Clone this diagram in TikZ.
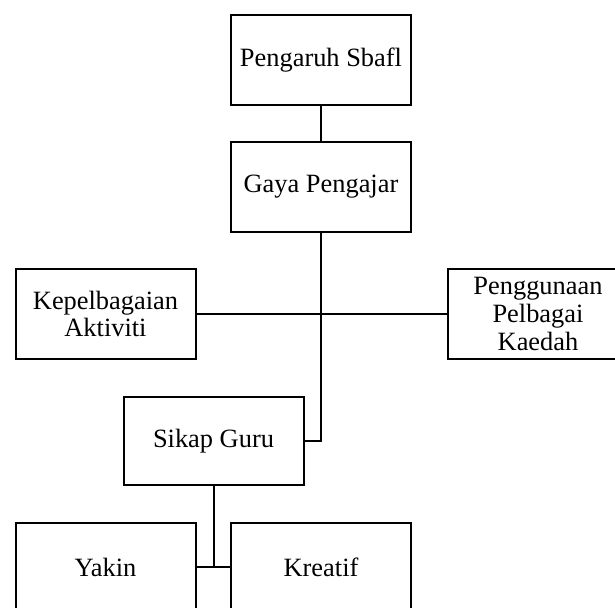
\documentclass[tikz,border=0pt]{standalone}
\usepackage{fontspec}
\setmainfont{Liberation Serif}
\begin{document}
\begin{tikzpicture}[x=0.5pt,y=-0.5pt,
		box/.style={draw,line width=1pt,minimum width=90pt,minimum height=45pt,
			inner sep=0pt,align=center,font=\fontsize{13.2}{13.8}\selectfont},
		link/.style={line width=1pt}]
		\useasboundingbox (0,0) rectangle (615,608);
		\node[box] (sbafl) at (321,60) {Pengaruh Sbafl};
		\node[box] (gaya) at (321,187) {Gaya Pengajar};
		\node[box] (aktiviti) at (105.5,314) {Kepelbagaian\\Aktiviti};
		\node[box] (kaedah) at (538,314) {Penggunaan\\Pelbagai\\Kaedah};
		\node[box,minimum height=44pt] (sikap) at (213.5,441) {Sikap Guru};
		\node[box,minimum height=44pt] (yakin) at (105.5,567) {Yakin};
		\node[box,minimum height=44pt] (kreatif) at (321,567) {Kreatif};
		\coordinate (split) at (sikap.south |- yakin.east);
		\draw[link] (sbafl) -- (gaya);
		\draw[link] (gaya.south) |- (sikap.east);
		\draw[link] (aktiviti.east) -- (kaedah.west);
		\draw[link] (sikap.south) -- (split);
		\draw[link] (yakin.east) -- (kreatif.west);
\end{tikzpicture}
\end{document}
